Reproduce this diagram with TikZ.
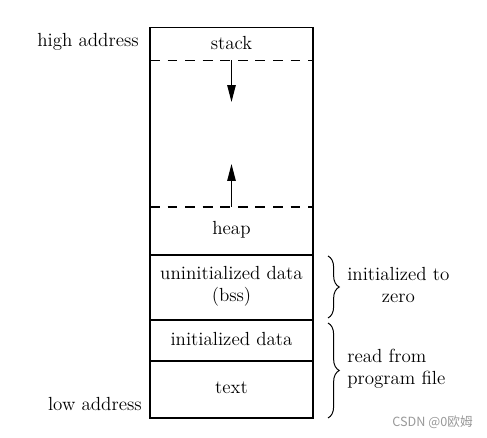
\documentclass[tikz,border=0pt]{standalone}
\usepackage{fontspec}
\newfontfamily\cjk{Noto Sans CJK SC}
\usetikzlibrary{arrows.meta,positioning,calc,decorations.pathreplacing}
\tikzset{
  frameln/.style={line width=0.8pt},
  splitln/.style={dash pattern=on 7pt off 5.5pt, line width=0.8pt},
  growln/.style={-{Triangle[length=12pt,width=6pt]}, line width=0.8pt},
  bracedec/.style={decorate, decoration={brace, amplitude=8pt}, line width=0.7pt},
  seglbl/.style={font=\fontsize{13.5}{15.6}\selectfont, align=center, inner sep=0pt},
  sidelbl/.style={font=\fontsize{13.5}{15.6}\selectfont, inner sep=0pt},
}

\begin{document}
\begin{tikzpicture}[x=0.025cm, y=-0.025cm]
    \useasboundingbox (0,0) rectangle (487,438);
    % Outer frame
    \draw[frameln] (150,27.5) rectangle (313,418);
    % Segment boundaries
    \draw[splitln] (150,60.5) -- (313,60.5);
    \draw[splitln] (150,207) -- (313,207);
    \draw[frameln] (150,255) -- (313,255);
    \draw[frameln] (150,320) -- (313,320);
    \draw[frameln] (150,361) -- (313,361);
    % Segment names
    \node[seglbl] (stack) at (231.5,43) {stack};
    \node[seglbl] (heap) at (231.5,230) {heap};
    \node[seglbl] (bss) at (231.5,286.5) {uninitialized data\\(bss)};
    \node[seglbl] (idata) at (231.5,339.5) {initialized data};
    \node[seglbl] (text) at (231.5,388) {text};
    % Growth arrows
    \coordinate (stkedge) at (231.5,60.5);
    \coordinate (stktip) at (231.5,102);
    \coordinate (hpedge) at (231.5,207);
    \coordinate (hptip) at (231.5,164);
    \draw[growln] (stkedge) -- (stktip);
    \draw[growln] (hpedge) -- (hptip);
    % Address ends
    \node[sidelbl, anchor=east] (high) at (139,42) {high address};
    \node[sidelbl, anchor=east] (low) at (142,404) {low address};
    % Braces
    \coordinate (bssup) at (328,256);
    \coordinate (bssdn) at (328,318);
    \coordinate (fileup) at (328,323);
    \coordinate (filedn) at (328,418);
    \draw[bracedec] (bssup) -- (bssdn);
    \draw[bracedec] (fileup) -- (filedn);
    \node[sidelbl, anchor=west, align=center] (zero) at (347,285) {initialized to\\zero};
    \node[sidelbl, anchor=west, align=left] (file) at (347,369) {read from\\program file};
    % Watermark
    \node[anchor=east, inner sep=0pt, text=black!40, font=\cjk\fontsize{9}{10}\selectfont] (mark) at (473,422) {CSDN @0欧姆};
\end{tikzpicture}
\end{document}
